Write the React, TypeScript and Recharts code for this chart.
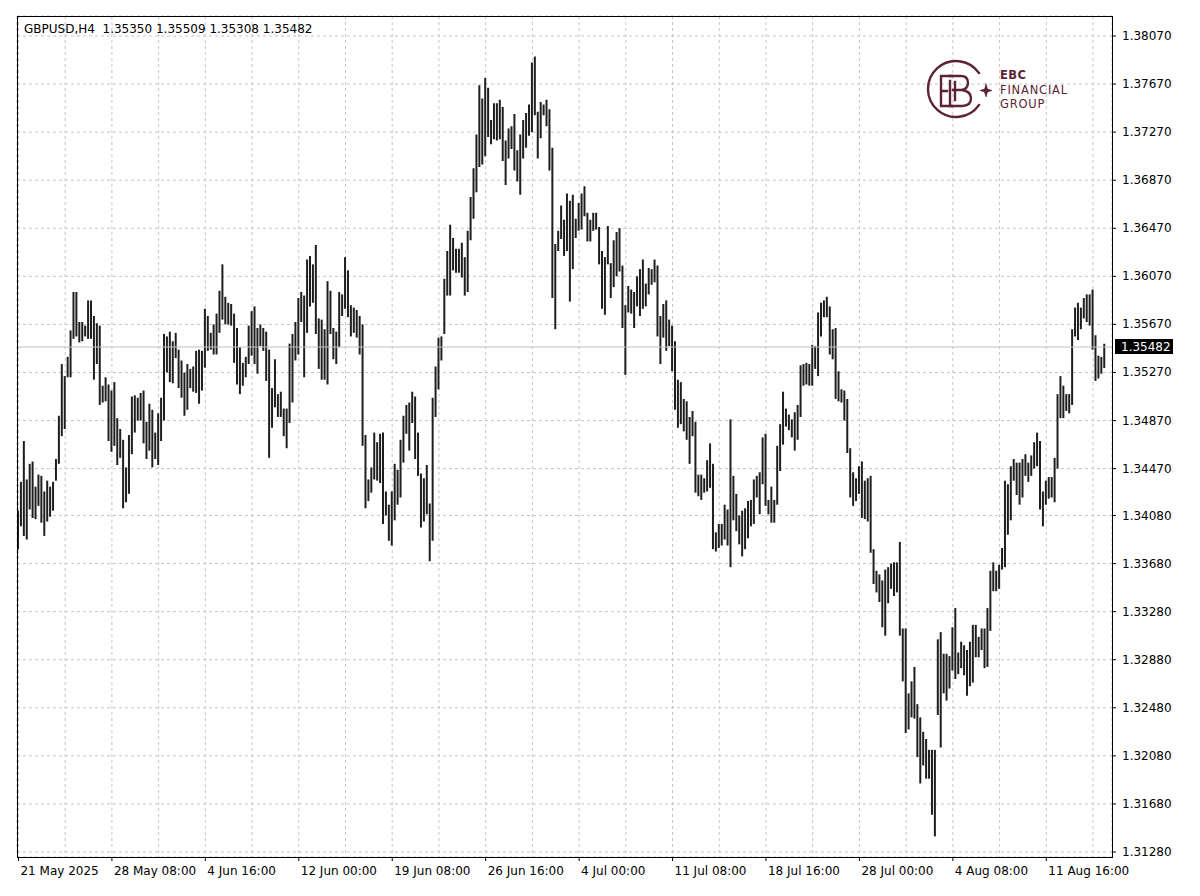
import { ComposedChart, Bar, XAxis, YAxis, CartesianGrid, ReferenceLine } from 'recharts'

// GBPUSD H4, one entry per bar
const highs = [
  1.3412, 1.3436, 1.3470, 1.3438, 1.3451, 1.3453, 1.3432, 1.3442, 1.3441, 1.3428,
  1.3437, 1.3432, 1.3436, 1.3455, 1.3491, 1.3534, 1.3524, 1.3540, 1.3562, 1.3594,
  1.3594, 1.3569, 1.3569, 1.3566, 1.3587, 1.3587, 1.3574, 1.3568, 1.3566, 1.3516,
  1.3523, 1.3517, 1.3512, 1.3519, 1.3489, 1.3480, 1.3471, 1.3448, 1.3475, 1.3507,
  1.3508, 1.3506, 1.3510, 1.3512, 1.3486, 1.3501, 1.3496, 1.3477, 1.3493, 1.3506,
  1.3559, 1.3557, 1.3561, 1.3553, 1.3560, 1.3546, 1.3537, 1.3527, 1.3534, 1.3530,
  1.3532, 1.3545, 1.3546, 1.3545, 1.3580, 1.3574, 1.3560, 1.3567, 1.3576, 1.3595,
  1.3617, 1.3590, 1.3585, 1.3584, 1.3576, 1.3564, 1.3548, 1.3535, 1.3540, 1.3566,
  1.3578, 1.3582, 1.3564, 1.3567, 1.3564, 1.3561, 1.3546, 1.3514, 1.3538, 1.3509,
  1.3511, 1.3497, 1.3497, 1.3551, 1.3559, 1.3569, 1.3589, 1.3594, 1.3591, 1.3621,
  1.3624, 1.3617, 1.3633, 1.3572, 1.3571, 1.3563, 1.3603, 1.3595, 1.3564, 1.3561,
  1.3594, 1.3592, 1.3623, 1.3612, 1.3583, 1.3581, 1.3579, 1.3574, 1.3567, 1.3475,
  1.3438, 1.3448, 1.3477, 1.3469, 1.3476, 1.3477, 1.3428, 1.3417, 1.3428, 1.3451,
  1.3446, 1.3471, 1.3491, 1.3500, 1.3502, 1.3511, 1.3507, 1.3477, 1.3443, 1.3439,
  1.3450, 1.3418, 1.3506, 1.3532, 1.3556, 1.3557, 1.3605, 1.3628, 1.3650, 1.3639,
  1.3630, 1.3630, 1.3635, 1.3623, 1.3645, 1.3673, 1.3697, 1.3725, 1.3766, 1.3755,
  1.3772, 1.3764, 1.3737, 1.3751, 1.3751, 1.3754, 1.3748, 1.3720, 1.3730, 1.3732,
  1.3742, 1.3712, 1.3725, 1.3737, 1.3743, 1.3750, 1.3785, 1.3790, 1.3744, 1.3752,
  1.3750, 1.3754, 1.3746, 1.3714, 1.3634, 1.3645, 1.3666, 1.3654, 1.3676, 1.3670,
  1.3675, 1.3655, 1.3668, 1.3676, 1.3682, 1.3660, 1.3654, 1.3660, 1.3660, 1.3648,
  1.3628, 1.3623, 1.3649, 1.3618, 1.3637, 1.3644, 1.3647, 1.3616, 1.3583, 1.3599,
  1.3596, 1.3594, 1.3607, 1.3613, 1.3621, 1.3601, 1.3614, 1.3613, 1.3621, 1.3616,
  1.3574, 1.3584, 1.3587, 1.3571, 1.3566, 1.3553, 1.3521, 1.3519, 1.3505, 1.3503,
  1.3490, 1.3495, 1.3486, 1.3442, 1.3442, 1.3439, 1.3454, 1.3468, 1.3451, 1.3394,
  1.3401, 1.3401, 1.3417, 1.3413, 1.3488, 1.3441, 1.3426, 1.3408, 1.3412, 1.3414,
  1.3420, 1.3421, 1.3438, 1.3441, 1.3444, 1.3473, 1.3476, 1.3421, 1.3432, 1.3421,
  1.3466, 1.3484, 1.3511, 1.3497, 1.3492, 1.3488, 1.3494, 1.3500, 1.3533, 1.3534,
  1.3535, 1.3534, 1.3550, 1.3549, 1.3577, 1.3585, 1.3587, 1.3590, 1.3582, 1.3563,
  1.3564, 1.3528, 1.3513, 1.3512, 1.3505, 1.3464, 1.3444, 1.3439, 1.3449, 1.3453,
  1.3437, 1.3439, 1.3441, 1.3380, 1.3362, 1.3359, 1.3354, 1.3363, 1.3365, 1.3368,
  1.3369, 1.3369, 1.3386, 1.3314, 1.3314, 1.3260, 1.3270, 1.3282, 1.3251, 1.3240,
  1.3228, 1.3222, 1.3213, 1.3213, 1.3213, 1.3305, 1.3311, 1.3293, 1.3293, 1.3291,
  1.3315, 1.3331, 1.3294, 1.3303, 1.3300, 1.3296, 1.3303, 1.3317, 1.3317, 1.3307,
  1.3314, 1.3314, 1.3331, 1.3362, 1.3369, 1.3362, 1.3367, 1.3381, 1.3437, 1.3434,
  1.3449, 1.3455, 1.3452, 1.3452, 1.3455, 1.3459, 1.3452, 1.3458, 1.3469, 1.3477,
  1.3470, 1.3428, 1.3437, 1.3440, 1.3440, 1.3456, 1.3509, 1.3524, 1.3516, 1.3509,
  1.3509, 1.3563, 1.3581, 1.3585, 1.3581, 1.3589, 1.3592, 1.3592, 1.3596, 1.3558,
  1.3541, 1.3540, 1.35509,
]

const lows = [
  1.3380, 1.3399, 1.3391, 1.3388, 1.3413, 1.3406, 1.3405, 1.3416, 1.3402, 1.3391,
  1.3403, 1.3407, 1.3412, 1.3437, 1.3451, 1.3474, 1.3480, 1.3523, 1.3523, 1.3555,
  1.3557, 1.3552, 1.3553, 1.3557, 1.3555, 1.3555, 1.3521, 1.3534, 1.3500, 1.3502,
  1.3503, 1.3470, 1.3461, 1.3466, 1.3450, 1.3456, 1.3414, 1.3419, 1.3426, 1.3459,
  1.3477, 1.3487, 1.3487, 1.3468, 1.3455, 1.3462, 1.3448, 1.3455, 1.3450, 1.3470,
  1.3487, 1.3527, 1.3519, 1.3518, 1.3539, 1.3514, 1.3506, 1.3491, 1.3496, 1.3514,
  1.3511, 1.3510, 1.3501, 1.3512, 1.3531, 1.3545, 1.3546, 1.3542, 1.3542, 1.3560,
  1.3571, 1.3567, 1.3567, 1.3566, 1.3535, 1.3517, 1.3509, 1.3516, 1.3523, 1.3534,
  1.3541, 1.3534, 1.3526, 1.3549, 1.3545, 1.3520, 1.3456, 1.3481, 1.3498, 1.3490,
  1.3490, 1.3474, 1.3464, 1.3485, 1.3502, 1.3537, 1.3542, 1.3569, 1.3523, 1.3560,
  1.3582, 1.3585, 1.3559, 1.3530, 1.3521, 1.3521, 1.3517, 1.3559, 1.3538, 1.3534,
  1.3548, 1.3574, 1.3580, 1.3573, 1.3557, 1.3560, 1.3556, 1.3542, 1.3466, 1.3414,
  1.3420, 1.3427, 1.3438, 1.3437, 1.3435, 1.3401, 1.3408, 1.3387, 1.3383, 1.3404,
  1.3417, 1.3423, 1.3452, 1.3476, 1.3462, 1.3485, 1.3455, 1.3441, 1.3398, 1.3403,
  1.3409, 1.3370, 1.3387, 1.3490, 1.3513, 1.3537, 1.3559, 1.3591, 1.3591, 1.3612,
  1.3610, 1.3610, 1.3606, 1.3591, 1.3594, 1.3637, 1.3655, 1.3677, 1.3698, 1.3700,
  1.3707, 1.3723, 1.3717, 1.3721, 1.3720, 1.3721, 1.3703, 1.3683, 1.3705, 1.3713,
  1.3695, 1.3686, 1.3675, 1.3705, 1.3714, 1.3724, 1.3727, 1.3741, 1.3705, 1.3722,
  1.3741, 1.3732, 1.3695, 1.3589, 1.3563, 1.3628, 1.3638, 1.3624, 1.3628, 1.3586,
  1.3613, 1.3639, 1.3645, 1.3646, 1.3657, 1.3636, 1.3636, 1.3645, 1.3646, 1.3617,
  1.3580, 1.3575, 1.3617, 1.3589, 1.3598, 1.3607, 1.3611, 1.3564, 1.3525, 1.3577,
  1.3576, 1.3564, 1.3582, 1.3574, 1.3580, 1.3582, 1.3592, 1.3600, 1.3602, 1.3557,
  1.3534, 1.3556, 1.3545, 1.3549, 1.3528, 1.3496, 1.3481, 1.3484, 1.3478, 1.3471,
  1.3451, 1.3474, 1.3427, 1.3424, 1.3421, 1.3427, 1.3428, 1.3431, 1.3380, 1.3378,
  1.3381, 1.3383, 1.3388, 1.3383, 1.3365, 1.3404, 1.3395, 1.3384, 1.3374, 1.3380,
  1.3389, 1.3399, 1.3401, 1.3423, 1.3409, 1.3434, 1.3416, 1.3409, 1.3402, 1.3402,
  1.3417, 1.3445, 1.3467, 1.3482, 1.3479, 1.3473, 1.3462, 1.3471, 1.3490, 1.3516,
  1.3517, 1.3516, 1.3516, 1.3530, 1.3524, 1.3557, 1.3573, 1.3573, 1.3542, 1.3538,
  1.3505, 1.3503, 1.3502, 1.3487, 1.3460, 1.3423, 1.3416, 1.3420, 1.3426, 1.3406,
  1.3405, 1.3403, 1.3377, 1.3351, 1.3344, 1.3336, 1.3315, 1.3308, 1.3335, 1.3347,
  1.3341, 1.3344, 1.3308, 1.3270, 1.3227, 1.3230, 1.3240, 1.3239, 1.3207, 1.3185,
  1.3200, 1.3189, 1.3189, 1.3159, 1.3141, 1.3242, 1.3215, 1.3260, 1.3254, 1.3264,
  1.3279, 1.3272, 1.3276, 1.3281, 1.3275, 1.3258, 1.3266, 1.3269, 1.3290, 1.3290,
  1.3296, 1.3281, 1.3282, 1.3312, 1.3345, 1.3345, 1.3347, 1.3363, 1.3365, 1.3392,
  1.3404, 1.3437, 1.3425, 1.3417, 1.3423, 1.3441, 1.3436, 1.3441, 1.3447, 1.3449,
  1.3413, 1.3399, 1.3417, 1.3422, 1.3423, 1.3419, 1.3447, 1.3489, 1.3489, 1.3495,
  1.3493, 1.3500, 1.3557, 1.3554, 1.3563, 1.3572, 1.3569, 1.3566, 1.3546, 1.3520,
  1.3522, 1.3526, 1.35308,
]

// grid columns every 16 bars; every other one carries a date label
const gridBars = [
  0, 16, 32, 48, 64, 80, 96, 112, 128, 144, 160, 176,
  192, 208, 224, 240, 256, 272, 288, 304, 320, 336, 352, 368,
]
const xTickBars = [0, 32, 64, 96, 128, 160, 192, 224, 256, 288, 320, 352]
const xTickLabels = [
  '21 May 2025', '28 May 08:00', '4 Jun 16:00', '12 Jun 00:00', '19 Jun 08:00', '26 Jun 16:00',
  '4 Jul 00:00', '11 Jul 08:00', '18 Jul 16:00', '28 Jul 00:00', '4 Aug 08:00', '11 Aug 16:00',
]

const yTickLabels = [
  '1.38070', '1.37670', '1.37270', '1.36870', '1.36470', '1.36070', '1.35670', '1.35270', '1.34870',
  '1.34470', '1.34080', '1.33680', '1.33280', '1.32880', '1.32480', '1.32080', '1.31680', '1.31280',
]
const yTicks = yTickLabels.map(Number)

const symbol = 'GBPUSD,H4'
const lastOhlc = ['1.35350', '1.35509', '1.35308', '1.35482']
const lastPrice = 1.35482

const data = highs.map((h, i) => ({ i, range: [lows[i], h] }))

const FONT = 'DejaVu Sans'
const MAROON = '#5b2333'

const XTick = ({ x, y, payload }: any) => {
  const k = xTickBars.indexOf(payload.value)
  if (k < 0) return null
  return (
    <g>
      <line x1={x} x2={x} y1={y - 6} y2={y - 2} stroke="#000" />
      <text x={x + 2} y={y + 12} fontSize={12} fontFamily={FONT} fill="#000">
        {xTickLabels[k]}
      </text>
    </g>
  )
}

const YTick = ({ x, y, payload }: any) => (
  <text x={x + 4} y={y + 4} fontSize={12} fontFamily={FONT} fill="#000">
    {yTickLabels[yTicks.indexOf(payload.value)]}
  </text>
)

const PriceTag = ({ viewBox }: any) => {
  const { x, y, width } = viewBox
  return (
    <g>
      <rect x={x + width + 3} y={y - 8} width={58} height={15} fill="#000" />
      <text x={x + width + 9} y={y + 4} fontSize={12} fontFamily={FONT} fill="#fff">
        {lastPrice.toFixed(5)}
      </text>
    </g>
  )
}

function Logo() {
  return (
    <g stroke={MAROON} fill="none" strokeWidth={2.4} strokeLinecap="square">
      <path d="M978.9 105.1 A28 28 0 1 1 978.9 72.9" />
      <path d="M952 76 H941 V106 H952 M941 91 H947" />
      <path d="M950 76 H961 Q968 76 968 83 Q968 89 961 90 L953 90 M961 90 Q971 91 971 98 Q971 106 962 106 H950 V81" />
      <path d="M955 82 V100" />
      <path d="M986 84 L987.5 89 L992 90.5 L987.5 92 L986 97 L984.5 92 L980 90.5 L984.5 89 Z" fill={MAROON} strokeWidth={0.6} />
      <g stroke="none" fill={MAROON} fontFamily={FONT} fontSize={11.5}>
        <text x={1000} y={79} fontWeight={700} letterSpacing={0.5}>EBC</text>
        <text x={1000} y={94} letterSpacing={0.8}>FINANCIAL</text>
        <text x={1000} y={108} letterSpacing={0.8}>GROUP</text>
      </g>
    </g>
  )
}

export default function App() {
  return (
    <div style={{ position: 'absolute', left: 0, top: 0, width: 1200, height: 896, background: '#fff' }}>
      <ComposedChart
        width={1200}
        height={896}
        data={data}
        margin={{ top: 16, right: 0, bottom: 0, left: 17 }}
      >
        <CartesianGrid stroke="#c6c6c6" strokeDasharray="3 3" />
        <XAxis
          dataKey="i"
          type="number"
          domain={[-0.5, 374.5]}
          ticks={gridBars}
          interval={0}
          height={39}
          tick={<XTick />}
          tickSize={4}
          tickLine={false}
          axisLine={false}
        />
        <YAxis
          orientation="right"
          type="number"
          domain={[1.312384, 1.382364]}
          allowDataOverflow
          ticks={yTicks}
          interval={0}
          width={88}
          tick={<YTick />}
          tickSize={4}
          tickLine={{ stroke: '#000' }}
          axisLine={false}
        />
        <ReferenceLine y={lastPrice} stroke="#c0c0c0" label={<PriceTag />} />
        <Bar dataKey="range" barSize={2} fill="#1e1e1e" isAnimationActive={false} />
      </ComposedChart>
      <svg
        width={1200}
        height={896}
        style={{ position: 'absolute', left: 0, top: 0, pointerEvents: 'none' }}
      >
        <rect x={17.5} y={16.5} width={1095} height={841} fill="none" stroke="#000" />
        <text x={24} y={33} fontSize={12} fontFamily={FONT} fill="#000" xmlSpace="preserve">
          {symbol + '  ' + lastOhlc.join(' ')}
        </text>
        <Logo />
      </svg>
    </div>
  )
}
